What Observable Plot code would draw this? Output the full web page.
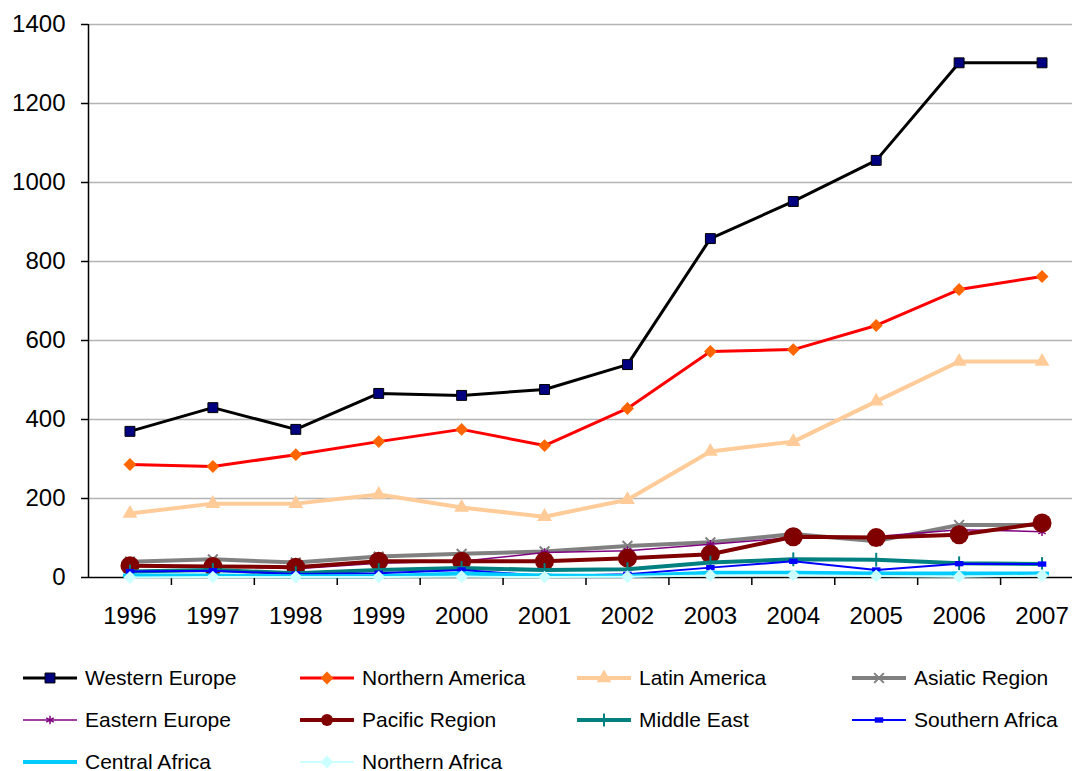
<!DOCTYPE html>
<html>
<head>
<meta charset="utf-8">
<script src="https://cdn.jsdelivr.net/npm/d3@7"></script>
<script src="https://cdn.jsdelivr.net/npm/@observablehq/plot@0.6"></script>
<style>
  html, body { margin: 0; padding: 0; background: #fff; }
  body { width: 1072px; height: 771px; overflow: hidden; font-family: "Liberation Sans", Arial, sans-serif; }
  #legend { position: relative; width: 1072px; }
  .item { position: absolute; height: 42px; display: flex; align-items: center; font-size: 21px; color: #000; white-space: nowrap; }
  .item svg { margin-right: 7px; }
</style>
</head>
<body>
<div id="chart"></div>
<div id="legend"></div>
<script>
// ---- data ----
const years = [1996, 1997, 1998, 1999, 2000, 2001, 2002, 2003, 2004, 2005, 2006, 2007];
const westernEurope   = [370, 430, 375, 466, 461, 476, 539, 858, 952, 1056, 1303, 1303];
const northernAmerica = [286, 281, 311, 344, 375, 334, 428, 572, 577, 638, 729, 762];
const latinAmerica    = [162, 187, 187, 210, 177, 154, 197, 319, 344, 446, 547, 547];
const asiaticRegion   = [40, 46, 38, 53, 60, 66, 80, 89, 110, 92, 133, 133];
const easternEurope   = [28, 30, 22, 36, 41, 63, 68, 84, 101, 104, 121, 116];
const pacificRegion   = [30, 28, 26, 41, 41, 41, 49, 59, 103, 101, 108, 138];
const middleEast      = [15, 19, 11, 19, 24, 19, 21, 38, 46, 45, 36, 34];
const southernAfrica  = [15, 17, 9, 11, 19, 4, 8, 25, 41, 19, 35, 34];
const centralAfrica   = [5, 5, 3, 3, 10, 5, 4, 12, 12, 10, 10, 10];
const northernAfrica  = [0, 1, 1, 1, 2, 1, 2, 5, 6, 4, 2, 5];
const yTicks = [0, 200, 400, 600, 800, 1000, 1200, 1400];

// custom marker shapes
const hDash = (wf, hf) => ({ draw(ctx, size) { const s = Math.sqrt(size); ctx.rect(-s * wf / 2, -s * hf / 2, s * wf, s * hf); } });
const vTick = { draw(ctx, size) { const s = Math.sqrt(size); ctx.moveTo(0, -s * 0.6); ctx.lineTo(0, s * 0.6); } };

const series = [
  { name: "Western Europe",   values: westernEurope,   stroke: "#000000", sw: 3,   symbol: "square",   r: 5.6, fill: "#000080", mstroke: "#000000", msw: 1 },
  { name: "Northern America", values: northernAmerica, stroke: "#FF0000", sw: 3,   symbol: "diamond2", r: 5.8, fill: "#FF6600", mstroke: "none", msw: 0 },
  { name: "Latin America",    values: latinAmerica,    stroke: "#FFCC99", sw: 4,   symbol: "triangle", r: 5.5, fill: "#FFCC99", mstroke: "none", msw: 0 },
  { name: "Asiatic Region",   values: asiaticRegion,   stroke: "#808080", sw: 4,   symbol: "times",    r: 4.5, fill: "none", mstroke: "#808080", msw: 2 },
  { name: "Eastern Europe",   values: easternEurope,   stroke: "#800080", sw: 1.5, symbol: "asterisk", r: 4,   fill: "none", mstroke: "#800080", msw: 1.5 },
  { name: "Pacific Region",   values: pacificRegion,   stroke: "#800000", sw: 4,   symbol: "circle",   r: 9.5, fill: "#800000", mstroke: "none", msw: 0 },
  { name: "Middle East",      values: middleEast,      stroke: "#008080", sw: 4,   symbol: vTick,      r: 6.5, fill: "none", mstroke: "#008080", msw: 2 },
  { name: "Southern Africa",  values: southernAfrica,  stroke: "#0000FF", sw: 2,   symbol: hDash(1.6, 1), r: 3, fill: "#0000FF", mstroke: "none", msw: 0 },
  { name: "Central Africa",   values: centralAfrica,   stroke: "#00CCFF", sw: 4,   symbol: hDash(2.2, 0.6), r: 3.6, fill: "#00CCFF", mstroke: "none", msw: 0 },
  { name: "Northern Africa",  values: northernAfrica,  stroke: "#CCFFFF", sw: 2,   symbol: "diamond2", r: 5.8, fill: "#CCFFFF", mstroke: "none", msw: 0 }
];

const boundaries = years.slice(0, -1).map(y => y + 0.5);

const plotMarks = [
  Plot.ruleY(yTicks.filter(d => d > 0), { y: d => d, stroke: "#b4b4b4", strokeWidth: 1.5 }),
  Plot.axisY({ ticks: yTicks, tickSize: 7, tickPadding: 16, fontSize: 24, tickFormat: d => String(d), stroke: "#000", strokeWidth: 1.5, color: "#000", label: null }),
  Plot.axisX({ ticks: years, tickSize: 0, tickPadding: 29, fontSize: 24, tickFormat: d => String(d), label: null, color: "#000" }),
  Plot.axisX({ ticks: boundaries, tickSize: 8, tickFormat: () => "", label: null, stroke: "#000", strokeWidth: 1.5 }),
  Plot.ruleX([1995.5], { x: d => d, stroke: "#000", strokeWidth: 1.5 }),
  Plot.ruleY([0], { y: d => d, stroke: "#000", strokeWidth: 1.5 })
];
for (const s of series) {
  const rows = years.map((y, i) => ({ year: y, value: s.values[i] }));
  plotMarks.push(Plot.line(rows, { x: "year", y: "value", stroke: s.stroke, strokeWidth: s.sw, strokeLinejoin: "round" }));
  plotMarks.push(Plot.dot(rows, { x: "year", y: "value", symbol: s.symbol, r: s.r, fill: s.fill, stroke: s.mstroke, strokeWidth: s.msw }));
}

const chart = Plot.plot({
  width: 1072,
  height: 640,
  marginLeft: 88,
  marginRight: 0,
  marginTop: 24,
  marginBottom: 63,
  style: { fontFamily: "'Liberation Sans', Arial, sans-serif", background: "#fff", color: "#000" },
  x: { type: "linear", domain: [1995.5, 2007.5], range: [88, 1083] },
  y: { domain: [0, 1400] },
  marks: plotMarks
});
document.getElementById("chart").appendChild(chart);

// ---- legend ----
const legend = document.getElementById("legend");
legend.style.height = (771 - 640) + "px";
const colX = [23, 300, 577, 852];
const rowY = [17, 59, 101];
const symType = s => {
  if (typeof s === "object") return s;
  return { square: d3.symbolSquare, diamond2: d3.symbolDiamond2, triangle: d3.symbolTriangle, times: d3.symbolTimes, asterisk: d3.symbolAsterisk, circle: d3.symbolCircle }[s];
};
series.forEach((s, i) => {
  const div = document.createElement("div");
  div.className = "item";
  div.style.left = colX[i % 4] + "px";
  div.style.top = rowY[Math.floor(i / 4)] + "px";
  const svg = d3.create("svg").attr("width", 55).attr("height", 20);
  svg.append("line").attr("x1", 0).attr("x2", 54).attr("y1", 10).attr("y2", 10)
    .attr("stroke", s.stroke).attr("stroke-width", s.sw);
  const size = Math.PI * Math.min(s.r, 6) ** 2;
  svg.append("path").attr("transform", "translate(27,10)")
    .attr("d", d3.symbol(symType(s.symbol), size)())
    .attr("fill", s.fill).attr("stroke", s.mstroke).attr("stroke-width", s.msw);
  div.appendChild(svg.node());
  const span = document.createElement("span");
  span.textContent = s.name;
  div.appendChild(span);
  legend.appendChild(div);
});
</script>
</body>
</html>
